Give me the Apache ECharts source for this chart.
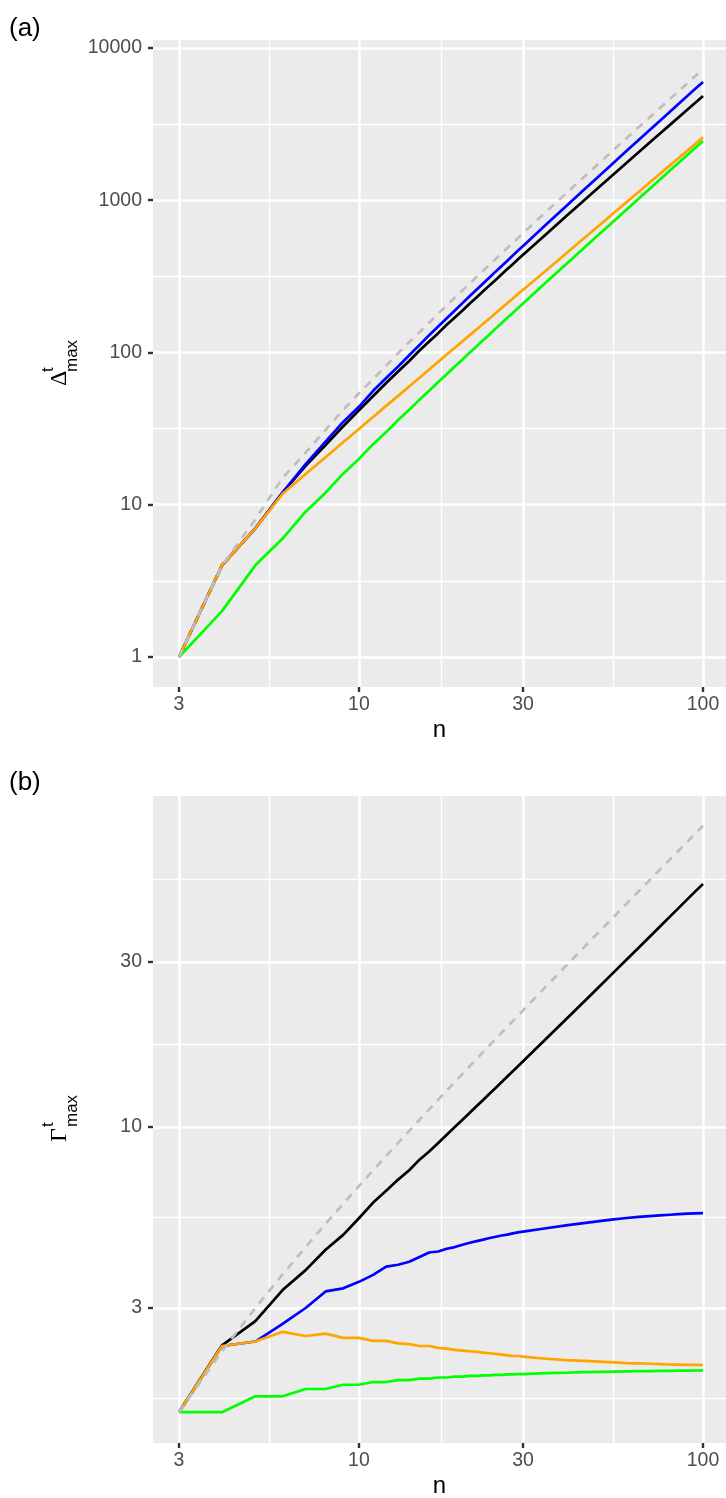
<!DOCTYPE html>
<html>
<head>
<meta charset="utf-8">
<title>Delta / Gamma max vs n</title>
<script src="https://cdn.jsdelivr.net/npm/echarts@6.0.0/dist/echarts.min.js"></script>
<style>
  html, body { margin: 0; padding: 0; background: #ffffff; }
  #chart { width: 726px; height: 1498px; }
</style>
</head>
<body>
<div id="chart"></div>
<script>
// n values (x), shared by both panels
const nVals = [3, 4, 5, 6, 7, 8, 9, 10, 11, 12, 13, 14, 15, 16, 17, 18, 19, 20, 21, 22,
  23, 24, 25, 26, 27, 28, 29, 30, 35, 40, 45, 50, 55, 60, 65, 70, 75, 80, 85, 90, 95, 100];

// panel (a): Delta^t_max
const deltaGrey = [1, 4, 8, 15, 22, 31, 42, 54, 67, 82, 99, 117, 136, 157, 180, 204, 229, 256, 284, 314,
  346, 379, 413, 449, 486, 525, 566, 607, 839, 1109, 1415, 1759, 2141, 2560, 3016, 3510, 4041, 4609, 5215, 5858, 6539, 7257];
const deltaBlue = [1, 4, 7, 12, 18.5, 26, 35, 44, 56, 68, 81, 96, 112, 130, 148, 168, 189, 211, 235, 259,
  285, 312, 341, 370, 401, 433, 467, 501, 692, 914, 1167, 1451, 1766, 2111, 2488, 2895, 3333, 3802, 4302, 4832, 5394, 5986];
const deltaBlack = [1, 4, 7, 12, 18, 24.7, 32.7, 41.7, 51.8, 63, 75, 88, 103, 118, 134, 152, 170, 189, 210, 231,
  253, 277, 301, 327, 353, 380, 409, 438, 599, 784, 993, 1225, 1483, 1762, 2066, 2393, 2741, 3114, 3512, 3929, 4371, 4831];
const deltaOrange = [1, 4, 7, 11.8, 15.9, 20.5, 25.7, 31.4, 37.7, 44.6, 51.9, 59.8, 68.3, 77.3, 86.8, 96.9, 107.5, 118.5, 130.1, 142.3,
  155, 168, 182, 196, 211, 226, 242, 258, 346, 447, 561, 686, 824, 973, 1134, 1307, 1492, 1688, 1896, 2115, 2347, 2589];
const deltaGreen = [1, 2, 4, 6, 9, 12, 16, 20, 25, 30, 36, 42, 49, 56, 64, 72, 81, 90, 100, 110,
  121, 132, 144, 156, 169, 182, 196, 210, 289, 380, 484, 600, 729, 870, 1024, 1190, 1369, 1560, 1764, 1980, 2209, 2450];

// panel (b): Gamma^t_max
const gammaGrey = [1.5, 2.25, 3, 3.75, 4.5, 5.25, 6, 6.75, 7.5, 8.25, 9, 9.75, 10.5, 11.25, 12, 12.75, 13.5, 14.25, 15, 15.75,
  16.5, 17.25, 18, 18.75, 19.5, 20.25, 21, 21.75, 25.5, 29.25, 33, 36.75, 40.5, 44.25, 48, 51.75, 55.5, 59.25, 63, 66.75, 70.5, 74.25];
const gammaBlack = [1.5, 2.34, 2.75, 3.38, 3.86, 4.42, 4.88, 5.45, 6.05, 6.55, 7.05, 7.5, 8.05, 8.5, 9, 9.5, 10, 10.5, 11, 11.5,
  12, 12.5, 13, 13.5, 14, 14.5, 15, 15.5, 18, 20.5, 23, 25.5, 28, 30.5, 33, 35.5, 38, 40.5, 43, 45.5, 48, 50.4];
const gammaBlue = [1.5, 2.33, 2.4, 2.7, 3.0, 3.35, 3.42, 3.57, 3.74, 3.95, 4.0, 4.08, 4.21, 4.34, 4.37, 4.45, 4.5, 4.57, 4.63, 4.68,
  4.73, 4.78, 4.82, 4.86, 4.89, 4.93, 4.96, 4.99, 5.1, 5.2, 5.28, 5.35, 5.41, 5.46, 5.5, 5.53, 5.56, 5.58, 5.6, 5.62, 5.63, 5.64];
const gammaOrange = [1.5, 2.33, 2.4, 2.56, 2.49, 2.53, 2.46, 2.46, 2.41, 2.41, 2.37, 2.36, 2.33, 2.33, 2.3, 2.29, 2.27, 2.26, 2.25, 2.24,
  2.23, 2.22, 2.21, 2.2, 2.19, 2.18, 2.18, 2.17, 2.14, 2.12, 2.11, 2.1, 2.09, 2.08, 2.075, 2.07, 2.065, 2.06, 2.058, 2.056, 2.054, 2.053];
const gammaGreen = [1.5, 1.5, 1.667, 1.667, 1.75, 1.75, 1.8, 1.8, 1.833, 1.833, 1.857, 1.857, 1.875, 1.875, 1.889, 1.889, 1.9, 1.9, 1.909, 1.909,
  1.917, 1.917, 1.923, 1.923, 1.929, 1.929, 1.933, 1.933, 1.944, 1.95, 1.957, 1.96, 1.964, 1.967, 1.97, 1.971, 1.974, 1.975, 1.977, 1.978, 1.979, 1.98];

// tick labels
const xTicks = [3, 10, 30, 100];
const deltaTicks = [1, 10, 100, 1000, 10000];
const gammaTicks = [3, 10, 30];

const sans = "'Liberation Sans', Arial, Helvetica, sans-serif";
const serif = "'Liberation Serif', 'DejaVu Serif', serif";
const lg = Math.log10;

// minor grid = midpoints (in log space) between major breaks, one extra each side
function minorOf(ticks) {
  const l = ticks.map(lg);
  const out = [];
  for (let i = 0; i < l.length - 1; i++) out.push((l[i] + l[i + 1]) / 2);
  out.unshift(l[0] - (l[1] - l[0]) / 2);
  out.push(l[l.length - 1] + (l[l.length - 1] - l[l.length - 2]) / 2);
  return out;
}

const xRange = [0.40156, 2.06685];
const yRangeA = [-0.19704, 4.0525];
const yRangeB = [0.08695, 1.95689];

function majorAxis(grid, range, ticks, isX) {
  const lv = ticks.map(lg);
  const ax = {
    type: 'value', gridIndex: grid, min: range[0], max: range[1],
    axisLine: { show: false, onZero: false },
    axisTick: { show: true, customValues: lv, length: 5, lineStyle: { color: '#333333', width: 2.4 } },
    axisLabel: {
      customValues: lv, color: '#4D4D4D', fontSize: 19.5, fontFamily: sans, margin: isX ? 8 : 11,
      formatter: v => String(Math.round(Math.pow(10, v)))
    },
    splitLine: { show: true, lineStyle: { color: '#FFFFFF', width: 2.5 } }
  };
  if (isX) {
    ax.position = 'bottom';
    ax.name = 'n';
    ax.nameLocation = 'middle';
    ax.nameGap = 31;
    ax.nameTextStyle = { fontSize: 24, color: '#000000', fontFamily: sans };
  } else {
    ax.position = 'left';
  }
  return ax;
}

function minorAxis(grid, range, ticks, isX) {
  return {
    type: 'value', gridIndex: grid, min: range[0], max: range[1],
    position: isX ? 'top' : 'right',
    axisLine: { show: false, onZero: false },
    axisTick: { show: false, customValues: minorOf(ticks) },
    axisLabel: { show: false, customValues: minorOf(ticks) },
    splitLine: { show: true, lineStyle: { color: '#FFFFFF', width: 1.3 } }
  };
}

function pts(vals) {
  return vals.map((v, i) => [lg(nVals[i]), lg(v)]);
}

function line(vals, color, idx, z, dashed) {
  return {
    type: 'line', xAxisIndex: idx, yAxisIndex: idx, data: pts(vals),
    showSymbol: false, symbol: 'none', silent: true, z: z,
    lineStyle: { color: color, width: 2.7, type: dashed ? [8, 7] : 'solid', join: 'round' }
  };
}

function yTitle(x, y, letter, scriptX) {
  return {
    type: 'group', x: x, y: y, rotation: Math.PI / 2, silent: true,
    children: [
      { type: 'text', x: 0, y: -8, style: { text: letter, font: '24px ' + serif, fill: '#000', align: 'left', verticalAlign: 'middle' } },
      { type: 'text', x: scriptX, y: -20, style: { text: 't', font: '17px ' + sans, fill: '#000', align: 'left', verticalAlign: 'middle' } },
      { type: 'text', x: scriptX, y: 4, style: { text: 'max', font: '17px ' + sans, fill: '#000', align: 'left', verticalAlign: 'middle' } }
    ]
  };
}

const chart = echarts.init(document.getElementById('chart'), null, { renderer: 'canvas' });
chart.setOption({
  animation: false,
  backgroundColor: '#FFFFFF',
  grid: [
    { left: 153, top: 40, width: 573, height: 647, show: true, backgroundColor: '#EBEBEB', borderWidth: 0, containLabel: false, outerBoundsMode: 'none' },
    { left: 153, top: 796, width: 573, height: 647, show: true, backgroundColor: '#EBEBEB', borderWidth: 0, containLabel: false, outerBoundsMode: 'none' }
  ],
  xAxis: [
    majorAxis(0, xRange, xTicks, true),
    majorAxis(1, xRange, xTicks, true),
    minorAxis(0, xRange, xTicks, true),
    minorAxis(1, xRange, xTicks, true)
  ],
  yAxis: [
    majorAxis(0, yRangeA, deltaTicks, false),
    majorAxis(1, yRangeB, gammaTicks, false),
    minorAxis(0, yRangeA, deltaTicks, false),
    minorAxis(1, yRangeB, gammaTicks, false)
  ],
  series: [
    line(deltaBlack, '#000000', 0, 2),
    line(deltaBlue, '#0000FF', 0, 3),
    line(deltaGreen, '#00FF00', 0, 4),
    line(deltaOrange, '#FFA500', 0, 5),
    line(deltaGrey, '#BEBEBE', 0, 6, true),
    line(gammaBlack, '#000000', 1, 2),
    line(gammaBlue, '#0000FF', 1, 3),
    line(gammaGreen, '#00FF00', 1, 4),
    line(gammaOrange, '#FFA500', 1, 5),
    line(gammaGrey, '#BEBEBE', 1, 6, true)
  ],
  graphic: [
    { type: 'text', left: 9, top: 16, silent: true, style: { text: '(a)', font: '26px ' + sans, fill: '#000' } },
    { type: 'text', left: 9, top: 770, silent: true, style: { text: '(b)', font: '26px ' + sans, fill: '#000' } },
    yTitle(68, 386, 'Δ', 14),
    yTitle(68, 1142, 'Γ', 15)
  ]
});
</script>
</body>
</html>
